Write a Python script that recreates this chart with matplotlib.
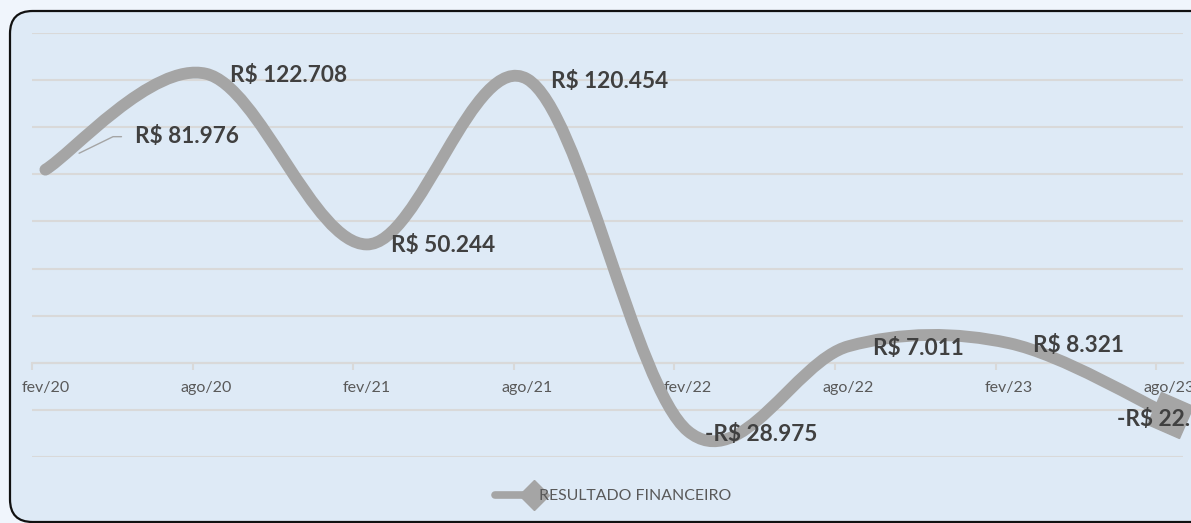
import matplotlib
matplotlib.use("Agg")
from matplotlib import pyplot
from matplotlib.path import Path
from matplotlib.patches import PathPatch, FancyBboxPatch
from matplotlib.lines import Line2D
from matplotlib.markers import MarkerStyle
from matplotlib.transforms import Affine2D
from matplotlib.legend_handler import HandlerLine2D
import numpy as np

# dados (semestral, fev/20 .. ago/23)
meses = [0.5, 6.5, 12.5, 18.5, 24.5, 30.5, 36.5, 42.5]
resultado = [81976, 122708, 50244, 120454, -28975, 7011, 8321, -22187]
rotulos = ['R$ 81.976', 'R$ 122.708', 'R$ 50.244', 'R$ 120.454',
           '-R$ 28.975', 'R$ 7.011', 'R$ 8.321', '-R$ 22.187']
datas = ['fev/20', 'ago/20', 'fev/21', 'ago/21', 'fev/22', 'ago/22', 'fev/23', 'ago/23']

CINZA = '#A5A5A5'
GRADE = '#D9D9D9'
TEXTO = '#595959'
FUNDO = '#DEEAF6'

pyplot.rcParams['font.family'] = ['Lato', 'DejaVu Sans']


class HandlerPonta(HandlerLine2D):
    # losango so na ponta direita da linha da legenda
    def create_artists(self, *args, **kwargs):
        arts = super().create_artists(*args, **kwargs)
        arts[-1].set_markevery([1])
        return arts


fig = pyplot.figure(figsize=(11.91, 5.23), dpi=100)
fig.patch.set_facecolor('#F0F5FC')

# caixa do grafico com cantos arredondados
caixa = FancyBboxPatch((10 / 1191, 1 / 523), 1.2, 511 / 523,
                       boxstyle="round,pad=0,rounding_size=0.019",
                       mutation_aspect=1191 / 523,
                       transform=fig.transFigure, facecolor=FUNDO,
                       edgecolor='#111111', lw=1.6, zorder=-10)
fig.patches.append(caixa)

ax = fig.add_axes([32 / 1191, (523 - 457) / 523, (1183 - 32) / 1191, (457 - 33) / 523])
ax.set_facecolor('none')
ax.set_xlim(0, 43)
ax.set_ylim(-40000, 140000)

# suavizacao tipo Excel (bezier cubica)
pts = np.column_stack([meses, resultado]).astype(float)
n = len(pts)
verts = [pts[0]]
codes = [Path.MOVETO]
for i in range(n - 1):
    p0 = pts[max(i - 1, 0)]
    p1 = pts[i]
    p2 = pts[i + 1]
    p3 = pts[min(i + 2, n - 1)]
    c1 = p1 + (p2 - p0) / 6
    c2 = p2 - (p3 - p1) / 6
    verts += [c1, c2, p2]
    codes += [Path.CURVE4] * 3
curva = PathPatch(Path(verts, codes), fill=False, edgecolor=CINZA, lw=8.5,
                  capstyle='round', joinstyle='round', zorder=3)
ax.add_patch(curva)

# ponta em losango alinhada com a linha
d = ax.transData.transform(pts[-1]) - ax.transData.transform(verts[-2])
ang = np.degrees(np.arctan2(d[1], d[0]))
ponta = MarkerStyle('D', transform=Affine2D().rotate_deg(ang + 45))
ax.plot(meses[-1], resultado[-1], marker=ponta, ms=25, color=CINZA, zorder=4, clip_on=False)

# rotulos de dados
offsets = [(90, 33), (24, -2), (24, -1), (24, -2), (17, -3), (25, -2), (24, -2), (-53, -4)]
for i in range(n):
    dx, dy = offsets[i]
    props = None
    if i == 0:
        props = dict(arrowstyle='-', color=CINZA, lw=1, shrinkA=8, shrinkB=27,
                     relpos=(0, 0.5), connectionstyle='angle,angleA=0,angleB=26,rad=0')
    ax.annotate(rotulos[i], (meses[i], resultado[i]), xytext=(dx, dy),
                textcoords='offset pixels', ha='left', va='center',
                fontsize=16.3, fontweight='bold', color='#404040', zorder=6,
                arrowprops=props, annotation_clip=False)

# eixos
for s in ['top', 'left', 'right']:
    ax.spines[s].set_visible(False)
ax.spines['bottom'].set_position(('data', 0))
ax.spines['bottom'].set_color(GRADE)
ax.spines['bottom'].set_linewidth(1.5)
ax.set_xticks(np.arange(0, 43, 6))
ax.set_xticklabels([])
ax.set_xticks(np.array(meses), minor=True)
ax.set_xticklabels(datas, minor=True)
ax.tick_params(axis='x', which='major', length=5, width=1.5, color=GRADE, direction='out')
ax.tick_params(axis='x', which='minor', length=0, pad=13, labelsize=11.5, labelcolor=TEXTO)
ax.set_yticks(np.arange(-40000, 140001, 20000))
ax.tick_params(axis='y', length=0, labelleft=False)
ax.grid(True, axis='y', color=GRADE, lw=1.5)
ax.set_axisbelow(True)

h = Line2D([], [], color=CINZA, lw=5.5, marker='D', ms=15.5, solid_capstyle='round')
leg = ax.legend([h], ['RESULTADO FINANCEIRO'], loc='center',
                bbox_to_anchor=(606 / 1191, (523 - 496) / 523),
                bbox_transform=fig.transFigure, frameon=False, handlelength=4.3,
                handletextpad=-0.6, fontsize=11.4, labelcolor=TEXTO,
                handler_map={h: HandlerPonta(numpoints=2, marker_pad=0.9)})

pyplot.savefig('out.png', dpi=100, facecolor=fig.get_facecolor())
